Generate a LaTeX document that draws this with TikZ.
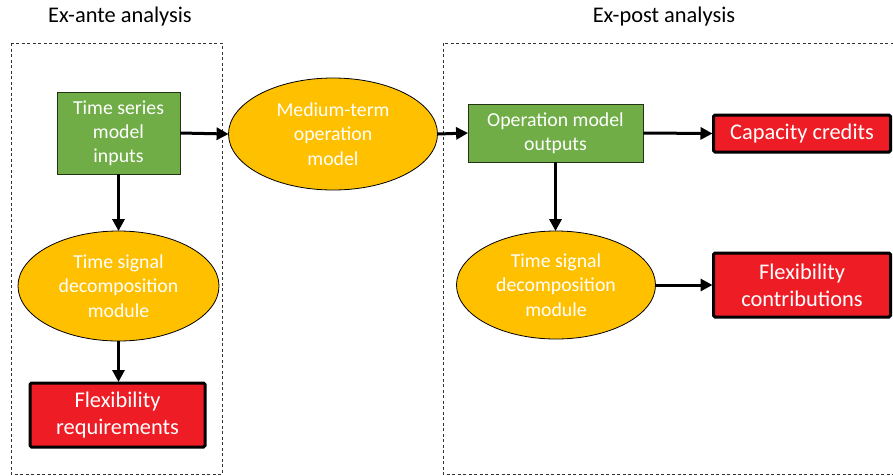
\documentclass[tikz,border=0pt]{standalone}
\usepackage{fontspec}
\setmainfont{Carlito}
\usetikzlibrary{arrows.meta,shapes.geometric}
\definecolor{boxgreen}{HTML}{70AD47}
\definecolor{boxorange}{HTML}{FFC000}
\definecolor{boxred}{HTML}{EE1C25}
\tikzset{
  every node/.style={align=center, text=white},
  greenbox/.style={rectangle, fill=boxgreen, draw=black!70!boxgreen, line width=0.8pt,
    inner sep=0pt, font=\fontsize{19.8}{24.2}\selectfont},
  orangeell/.style={ellipse, fill=boxorange, draw=black, line width=0.8pt,
    inner sep=0pt, font=\fontsize{19.8}{24.2}\selectfont},
  redbox/.style={rectangle, fill=boxred, draw=black, line width=3pt, rounded corners=1.5pt,
    inner sep=0pt, font=\fontsize{22.4}{27.3}\selectfont},
  title/.style={text=black, font=\fontsize{22.4}{27}\selectfont},
  region/.style={draw=black!80, line width=0.8pt, dash pattern=on 3pt off 2.5pt},
  flow/.style={line width=3pt, -{Triangle[length=12pt,width=12pt]}, shorten >=-0.5pt},
}
\begin{document}
\begin{tikzpicture}[x=1pt,y=-1pt]
\useasboundingbox (0,0) rectangle (893,475);
\begin{scope}
\clip (0,0) rectangle (893,475);

% analysis regions
\node[title] (antetitle) at (120,17) {Ex-ante analysis};
\node[title] (posttitle) at (664,17) {Ex-post analysis};
\draw[region] (11,43) rectangle (222,474);
\draw[region] (443,43) rectangle (900,474);

% ex-ante side
\node[greenbox, minimum width=123pt, minimum height=82pt] (inputs) at (118.5,133) {Time series\\model\\inputs};
\node[orangeell, minimum width=201pt, minimum height=110pt] (decompA) at (118.5,286) {Time signal\\decomposition\\module};
\node[redbox, minimum width=175pt, minimum height=64pt] (flexreq) at (117.5,415) {Flexibility\\requirements};

% operation model
\node[orangeell, minimum width=209pt, minimum height=112pt] (opmodel) at (333,134) {Medium-term\\operation\\model};

% ex-post side
\node[greenbox, minimum width=175pt, minimum height=58pt] (outputs) at (555.5,133) {Operation model\\outputs};
\node[redbox, minimum width=177pt, minimum height=37pt] (capcred) at (802,133.5) {Capacity credits};
\node[orangeell, minimum width=199pt, minimum height=108pt] (decompB) at (556,285) {Time signal\\decomposition\\module};
\node[redbox, minimum width=177pt, minimum height=64pt] (flexcon) at (802,285) {Flexibility\\contributions};

% connectors
\draw[flow] (inputs.east) -- (opmodel.west);
\draw[flow] (inputs.south) -- (decompA.north);
\draw[flow] (decompA.south) -- (decompA.south |- flexreq.north);
\draw[flow] (opmodel.east) -- (outputs.west);
\draw[flow] (outputs.east) -- (capcred.west);
\draw[flow] (outputs.south) -- (outputs.south |- decompB.north);
\draw[flow] (decompB.east) -- (flexcon.west);
\end{scope}
\end{tikzpicture}
\end{document}
